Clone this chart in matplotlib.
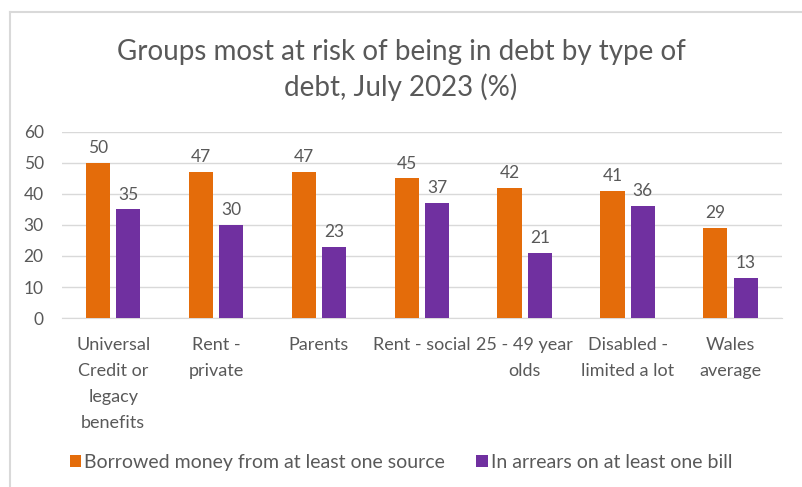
import matplotlib.pyplot as plt
import numpy as np
from matplotlib.lines import Line2D

plt.rcParams['font.family'] = ['Lato', 'DejaVu Sans']

categories = ["Universal\nCredit or\nlegacy\nbenefits", "Rent -\nprivate", "Parents",
              "Rent - social", "25 - 49 year\nolds", "Disabled -\nlimited a lot", "Wales\naverage"]
borrowed = [50, 47, 47, 45, 42, 41, 29]
arrears = [35, 30, 23, 37, 21, 36, 13]
series_names = ["Borrowed money from at least one source", "In arrears on at least one bill"]
colors = ["#E46C0A", "#7030A0"]
grey = "#595959"

fig = plt.figure(figsize=(8.02, 4.87), dpi=100)
ax = fig.add_axes([0.077, 0.347, 0.898, 0.382])

x = np.arange(len(categories))
w = 0.235
gap = 0.06
b1 = ax.bar(x - (w + gap) / 2, borrowed, w, color=colors[0], label=series_names[0], zorder=3)
b2 = ax.bar(x + (w + gap) / 2, arrears, w, color=colors[1], label=series_names[1], zorder=3)

for bars in (b1, b2):
    ax.bar_label(bars, padding=5, fontsize=12.5, color=grey)

ax.set_ylim(0, 60)
ax.set_xlim(-0.5, len(categories) - 0.5)
ax.set_yticks(range(0, 61, 10))
ax.yaxis.grid(True, color="#D9D9D9", linewidth=1, zorder=0)
for s in ["top", "right", "left"]:
    ax.spines[s].set_visible(False)
ax.spines["bottom"].set_color("#D9D9D9")
ax.tick_params(axis="both", length=0, labelcolor=grey)
ax.tick_params(axis="y", pad=13, labelsize=12.5)
ax.set_xticks(x)
ax.set_xticklabels(categories, fontsize=13, linespacing=1.75, va="top")
ax.tick_params(axis="x", pad=14)

fig.text(0.5, 0.856, "Groups most at risk of being in debt by type of\ndebt, July 2023 (%)",
         ha="center", va="center", fontsize=20, color=grey, linespacing=1.4)

fig.legend(loc="center", bbox_to_anchor=(0.5, 0.051), ncol=2, frameon=False,
           fontsize=14, labelcolor=grey, handlelength=0.6, handleheight=0.6,
           handletextpad=0.15, columnspacing=1.6)

# chart-area frame: only top and left edges fall inside the image
fig.add_artist(Line2D([0.012, 1.0], [0.975, 0.975], transform=fig.transFigure,
                      color="#D9D9D9", linewidth=1.5))
fig.add_artist(Line2D([0.012, 0.012], [0.0, 0.975], transform=fig.transFigure,
                      color="#D9D9D9", linewidth=1.5))

fig.savefig("out.png", dpi=100, facecolor="white")
